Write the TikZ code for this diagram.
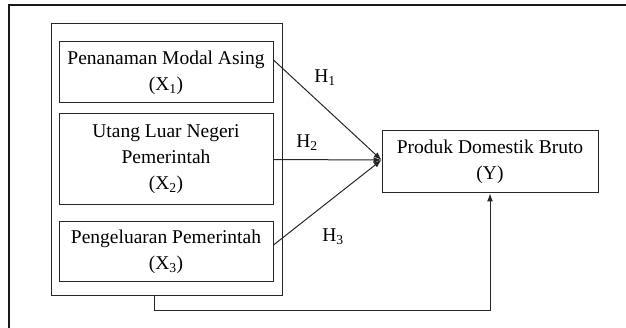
\documentclass[tikz,border=0pt]{standalone}
\usepackage{fontspec}
\setmainfont{Liberation Serif}
\usetikzlibrary{arrows.meta,calc}
\begin{document}
\begin{tikzpicture}[x=1pt,y=-1pt,
  box/.style={draw=black!85,line width=1pt,inner sep=0pt,align=center,
    font=\fontsize{19.5}{26}\selectfont},
  conn/.style={draw=black!85,line width=1pt},
  arr/.style={conn,-{Latex[length=8pt,width=6pt]}},
  hlab/.style={font=\fontsize{19.5}{24}\selectfont,inner sep=0pt}]
\useasboundingbox (0,0) rectangle (626,328);
% outer frame (partly cropped)
\draw[line width=1.6pt,black!90] (9,340) -- (9,5) -- (640,5);
% group box
\node[box,minimum width=231pt,minimum height=272pt] (g) at (166.5,160) {};
\node[box,minimum width=214pt,minimum height=61pt] (b1) at (166,72.5)
  {Penanaman Modal Asing\\(X\textsubscript{1})};
\node[box,minimum width=214pt,minimum height=91pt] (b2) at (166,159.5)
  {Utang Luar Negeri\\Pemerintah\\(X\textsubscript{2})};
\node[box,minimum width=214pt,minimum height=60pt] (b3) at (166,252)
  {Pengeluaran Pemerintah\\(X\textsubscript{3})};
\node[box,minimum width=216pt,minimum height=62pt] (y) at (490,162)
  {Produk Domestik Bruto\\(Y)};
% connectors
\coordinate (t) at ($(y.west)+(0,-2)$);
\coordinate (s1) at ($(b1.east)+(0,-12.5)$);
\coordinate (s3) at ($(b3.east)+(0,-7)$);
\draw[arr] (s1) -- (t);
\draw[arr] (b2.east) -- (t);
\draw[arr] (s3) -- (t);
\coordinate (gs) at ($(g.south)+(-12.5,0)$);
\coordinate (c1) at ($(gs)+(0,14)$);
\draw[arr] (gs) -- (c1) -| (y.south);
% labels
\node[hlab] (h1) at (325,78) {H\textsubscript{1}};
\node[hlab] (h2) at (307,143) {H\textsubscript{2}};
\node[hlab] (h3) at (333,237) {H\textsubscript{3}};
\end{tikzpicture}
\end{document}
